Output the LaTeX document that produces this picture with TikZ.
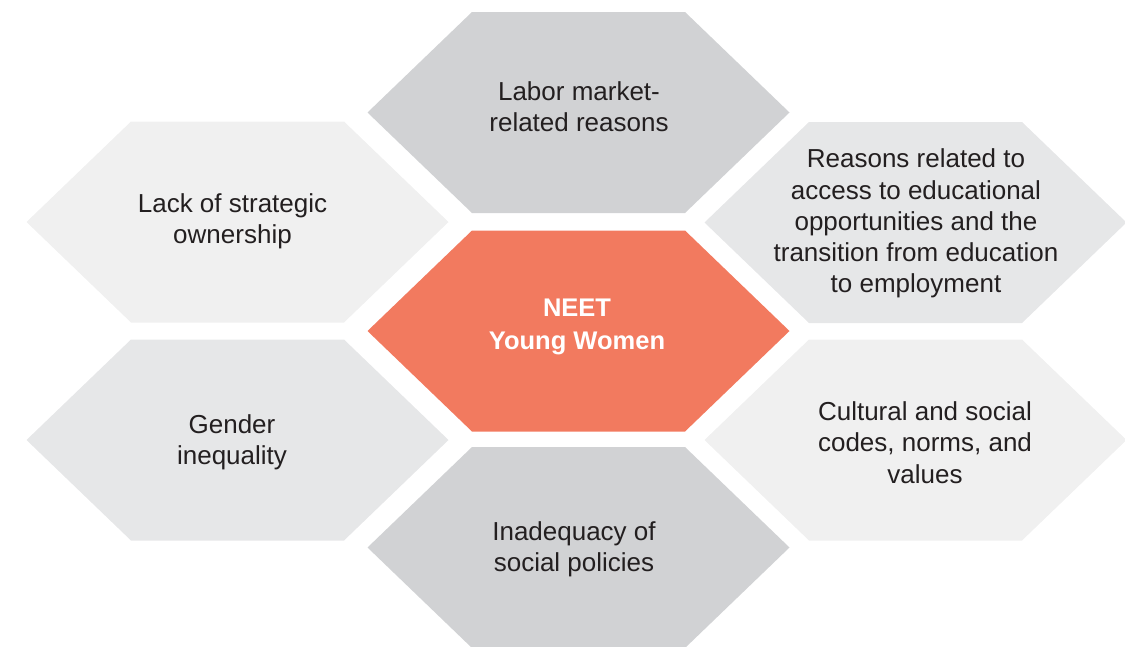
\documentclass[tikz,border=0pt]{standalone}
\usepackage{fontspec}
\setmainfont{Liberation Sans}
\definecolor{hexdark}{HTML}{D1D2D4}
\definecolor{hexmid}{HTML}{E6E7E8}
\definecolor{hexlight}{HTML}{F0F0F0}
\definecolor{hexcore}{HTML}{F27A5F}
\definecolor{txt}{HTML}{231F20}
\newcommand\hexpath[3]{\fill[#3] (#1-211,#2) -- (#1-106.5,#2-100.5) -- (#1+106.5,#2-100.5) -- (#1+211,#2) -- (#1+106.5,#2+100.5) -- (#1-106.5,#2+100.5) -- cycle;}
\tikzset{
  lbl/.style={align=center, text=txt, inner sep=0pt, font=\fontsize{26}{31.2}\selectfont},
  corelbl/.style={align=center, text=white, inner sep=0pt, font=\fontsize{25.5}{32.5}\selectfont\bfseries}
}
\begin{document}
\begin{tikzpicture}[x=1pt,y=-1pt]
\useasboundingbox (0,0) rectangle (1125,646);
\hexpath{578.5}{112.5}{hexdark}
\hexpath{578.5}{331}{hexcore}
\hexpath{578.5}{547.5}{hexdark}
\hexpath{237.5}{222}{hexlight}
\hexpath{915.5}{222.5}{hexmid}
\hexpath{237.5}{440}{hexmid}
\hexpath{915.5}{440}{hexlight}
\node[lbl] (labor) at (579,107) {Labor market-\\related reasons};
\node[corelbl] (neet) at (577,327) {NEET\\Young Women};
\node[lbl] (policy) at (574,549) {Inadequacy of\\social policies};
\node[lbl] (owner) at (232.5,221) {Lack of strategic\\ownership};
\node[lbl] (educ) at (916,223.5) {Reasons related to\\access to educational\\opportunities and the\\transition from education\\to employment};
\node[lbl] (gender) at (232,442) {Gender\\inequality};
\node[lbl] (culture) at (925,442.5) {Cultural and social\\codes, norms, and\\values};
\end{tikzpicture}
\end{document}
